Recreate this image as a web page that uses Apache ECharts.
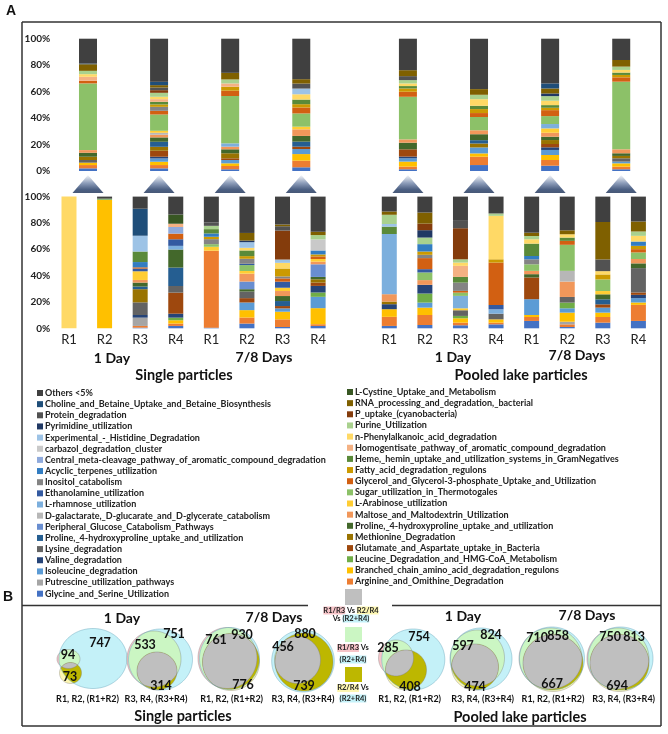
<!DOCTYPE html>
<html><head><meta charset="utf-8">
<script src="https://cdn.jsdelivr.net/npm/echarts@6/dist/echarts.min.js"></script>
<style>html,body{margin:0;padding:0;background:#fff}#c{width:668px;height:734px}</style>
</head><body><div id="c"></div>
<script>
// ---------- DATA ----------
const codes = ['Gly','Arg','Put','Bra','Iso','Leu','Val','Glu','Lys','Met','ProB','ProG','Per','Mal','Dga','Ara','Rha','Sug','Eth','Glp','Ino','Fat','Acy','Hem','Cen','Hom','Car','Phe','His','Pur','Pyr','Pup','Prt','Rna','Cho','Cys','Oth'];
const names = ['Glycine_and_Serine_Utilization','Arginine_and_Omithine_Degradation','Putrescine_utilization_pathways','Branched_chain_amino_acid_degradation_regulons','Isoleucine_degradation','Leucine_Degradation_and_HMG-CoA_Metabolism','Valine_degradation','Glutamate_and_Aspartate_uptake_in_Bacteria','Lysine_degradation','Methionine_Degradation','Proline,_4-hydroxyproline_uptake_and_utilization','Proline,_4-hydroxyproline_uptake_and_utilization\u200B','Peripheral_Glucose_Catabolism_Pathways','Maltose_and_Maltodextrin_Utilization','D-galactarate,_D-glucarate_and_D-glycerate_catabolism','L-Arabinose_utilization','L-rhamnose_utilization','Sugar_utilization_in_Thermotogales','Ethanolamine_utilization','Glycerol_and_Glycerol-3-phosphate_Uptake_and_Utilization','Inositol_catabolism','Fatty_acid_degradation_regulons','Acyclic_terpenes_utilization','Heme,_hemin_uptake_and_utilization_systems_in_GramNegatives','Central_meta-cleavage_pathway_of_aromatic_compound_degradation','Homogentisate_pathway_of_aromatic_compound_degradation','carbazol_degradation_cluster','n-Phenylalkanoic_acid_degradation','Experimental_-_Histidine_Degradation','Purine_Utilization','Pyrimidine_utilization','P_uptake_(cyanobacteria)','Protein_degradation','RNA_processing_and_degradation,_bacterial','Choline_and_Betaine_Uptake_and_Betaine_Biosynthesis','L-Cystine_Uptake_and_Metabolism','Others <5%'];

// Top row (pooled replicate pairs), % per subsystem
const topSingle1Day_R1R2 = [['Gly',2],['Arg',2.5],['Bra',1.8],['Lys',2],['Met',2.5],['ProG',3],['Mal',2],['Sug',50.4],['Glp',2],['Hom',3],['Phe',2],['Pur',2.5],['Rna',5],['Cho',0.5],['Oth',18.8]];
const topSingle1Day_R3R4 = [['Gly',2],['Arg',2.5],['Bra',2.5],['Iso',2.5],['Val',1.3],['Glu',4.5],['Met',3],['ProB',3.8],['ProG',3.3],['Mal',2],['Dga',1.5],['Ara',1.5],['Sug',12.3],['Glp',2.8],['Ino',3],['Fat',1.8],['Hem',2],['Hom',2],['Phe',1.8],['Pur',3],['Pup',2],['Prt',2],['Rna',1.8],['Cho',2.5],['Oth',32.6]];
const topSingle78_R1R2 = [['Gly',1.3],['Arg',2.5],['Bra',2],['Iso',2.5],['Glu',1.3],['Met',3.8],['ProG',3],['Mal',2],['Rha',2.5],['Sug',35.8],['Glp',4],['Fat',3],['Hom',2.5],['Pur',3],['Rna',5],['Oth',25.8]];
const topSingle78_R3R4 = [['Gly',2.8],['Arg',5],['Bra',5],['Iso',3.8],['Glu',1.8],['ProB',3.8],['ProG',4.3],['Mal',5],['Ara',2],['Sug',10],['Glp',4.5],['Fat',2.5],['Hem',3.5],['Phe',4],['His',4.3],['Prt',3.8],['Rna',3.3],['Oth',30.6]];
const topPooled1Day_R1R2 = [['Gly',1.3],['Arg',2],['Bra',3.8],['Iso',2.5],['Val',1.3],['Glu',5.5],['ProG',5],['Mal',2.5],['Sug',32.2],['Glp',3.8],['Fat',2.5],['Hem',1.8],['Phe',2],['Pur',2.5],['Prt',3],['Rna',4.5],['Oth',23.8]];
const topPooled1Day_R3R4 = [['Gly',4.5],['Arg',6.3],['Bra',2.5],['Iso',4.5],['Met',3],['ProB',2.5],['ProG',4.5],['Mal',3],['Sug',10],['Glp',3],['Fat',3],['Hem',2.5],['Phe',5],['Pur',3.3],['Rna',4.3],['Oth',38.1]];
const topPooled78_R1R2 = [['Gly',4],['Arg',4.3],['Bra',3.8],['Iso',3.8],['Val',2],['Glu',2.5],['Met',3],['ProG',2.5],['Mal',3],['Ara',3.3],['Rha',3.3],['Sug',6],['Glp',4.5],['Fat',1.8],['Hem',2],['Phe',3.3],['Pur',3.5],['Pyr',2],['Rna',3.8],['Cho',3.8],['Oth',33.8]];
const topPooled78_R3R4 = [['Gly',1.3],['Arg',2],['Bra',2.5],['Iso',1.3],['Lys',2.5],['Met',1.8],['ProG',2],['Mal',3],['Sug',51.1],['Glp',3.3],['Fat',1.8],['Hem',1.8],['Phe',2],['Pur',2.5],['Rna',5],['Oth',16.1]];

// Bottom row (individual replicates), % per subsystem
const single1Day_R1 = [['Phe',100]];
const single1Day_R2 = [['Leu',0.5],['Bra',97.5],['Hem',0.5],['Oth',1.5]];
const single1Day_R3 = [['Gly',0.5],['Arg',1.3],['Put',6.3],['Val',2],['Lys',9.6],['Met',10],['ProB',2],['ProG',3],['Mal',2],['Ara',6.6],['Eth',2],['Glp',1],['Acy',4],['Hem',8],['His',12],['Cho',20.5],['Oth',9.2]];
const single1Day_R4 = [['Gly',1.8],['Arg',1.8],['Bra',2.5],['Leu',2],['Val',3],['Glu',16],['Lys',5],['ProB',14],['ProG',13.7],['Rha',2.8],['Eth',5],['Glp',4.3],['Cen',5],['Hom',2.5],['Cys',7],['Oth',13.6]];
const single78_R1 = [['Gly',0.5],['Arg',58.4],['Ara',3],['Sug',2],['Ino',3.8],['Acy',2.5],['Hem',3.3],['Fat',1.8],['Pur',2.5],['Prt',2.5],['Oth',19.7]];
const single78_R2 = [['Gly',3.6],['Arg',4.6],['Bra',5.6],['Iso',5.8],['Glu',3.3],['Lys',5],['ProG',1.8],['Per',5.8],['Mal',6],['Ara',2],['Sug',4.5],['Eth',1],['Ino',3.8],['Fat',2],['Hem',4.3],['Phe',2],['His',4.3],['Pyr',1.2],['Rna',5.8],['Oth',27.6]];
const single78_R3 = [['Gly',1],['Arg',5.8],['Bra',5.8],['Iso',2.5],['Glu',1.8],['ProB',3.8],['ProG',3.8],['Mal',3.8],['Ara',2.5],['Eth',4.6],['Glp',2.5],['Ino',1.5],['Fat',6],['Phe',4.3],['His',2.5],['Pup',22],['Prt',3.3],['Rna',1.3],['Oth',21.2]];
const single78_R4 = [['Gly',1.8],['Arg',1.3],['Bra',12.2],['Iso',8.6],['Leu',3.3],['Val',5],['Glu',2.5],['Met',2.5],['ProG',1.8],['Per',9.6],['Mal',2],['Ara',2],['Glp',2],['Fat',1.5],['Acy',3],['Car',8.4],['Pur',3.3],['Rna',2.5],['Oth',26.7]];
const pooled1Day_R1 = [['Gly',1.8],['Arg',6.9],['Bra',5.8],['Val',3.8],['Met',2],['Mal',5.6],['Rha',45.7],['Hem',5.6],['His',2],['Pur',7],['Rna',2.5],['Oth',11.3]];
const pooled1Day_R2 = [['Gly',2.5],['Arg',7.6],['Bra',5.6],['Iso',3.8],['Leu',6.9],['Val',6.6],['Mal',3.6],['Sug',5.8],['Eth',2.5],['Glp',8.4],['Ino',2.5],['Fat',2.5],['Acy',5.6],['Pur',5],['Pyr',5.6],['Pup',5],['Rna',8.4],['Oth',12.1]];
const pooled1Day_R3 = [['Gly',2.3],['Arg',2],['Bra',3.3],['Leu',1.8],['Lys',4.3],['Ara',1.5],['Rha',9.4],['Sug',2.5],['Glp',1.3],['Ino',6.3],['Hem',4.3],['Hom',8.4],['Phe',2.5],['Pur',2.5],['Pup',23.6],['Prt',5.6],['Oth',18.4]];
const pooled1Day_R4 = [['Gly',3],['Arg',1.3],['Bra',2.5],['Lys',4.3],['Rha',3.3],['Eth',3.3],['Glp',32.2],['Fat',2.5],['Phe',33],['Pur',1.8],['Oth',12.8]];
const pooled78_R1 = [['Gly',5.6],['Arg',3],['Bra',1.5],['Iso',12],['Glu',16.5],['ProG',2.5],['Mal',2.5],['Sug',5],['Ino',3.8],['Acy',2.5],['Hem',9.4],['Phe',3.3],['Pur',2.5],['Rna',2.5],['Oth',27.4]];
const pooled78_R2 = [['Gly',1],['Arg',2],['Put',2],['Bra',6.9],['Iso',3.3],['Leu',4.3],['Lys',4.3],['Mal',11.7],['Dga',8.1],['Sug',19.8],['Glp',3],['Hem',2.5],['Phe',2.5],['Rna',3],['Oth',25.6]];
const pooled78_R3 = [['Gly',4.3],['Arg',4.3],['Bra',3.3],['Iso',3.8],['Glu',2.5],['ProB',3.8],['ProG',3.8],['Ara',2.5],['Sug',8.8],['Fat',3.8],['Phe',2.5],['Prt',8.9],['Rna',28.4],['Oth',19.3]];
const pooled78_R4 = [['Gly',5.6],['Arg',12.2],['Bra',1.8],['Iso',3.3],['Val',2.5],['Glu',1.8],['Lys',18.5],['ProG',3.6],['Mal',3.3],['Sug',5],['Glp',2.5],['Fat',2.5],['Acy',3.3],['Phe',4.3],['Pur',3.3],['Rna',7.6],['Oth',18.9]];

const bottomLabels = ['R1','R2','R3','R4','R1','R2','R3','R4','','R1','R2','R3','R4','R1','R2','R3','R4'];

// Venn counts (panel B)
const vennCounts = [
  ['94','747','73'], ['533','751','314'], ['761','930','776'], ['456','880','739'],
  ['285','754','408'], ['597','824','474'], ['710','858','667'], ['750','813','694']
];
const vennLabels = ['R1, R2, (R1+R2)','R3, R4, (R3+R4)','R1, R2, (R1+R2)','R3, R4, (R3+R4)','R1, R2, (R1+R2)','R3, R4, (R3+R4)','R1, R2, (R1+R2)','R3, R4, (R3+R4)'];

// ---------- STYLE / LAYOUT ----------
const colors = ['#4472C4','#ED7D31','#A5A5A5','#FFC000','#5B9BD5','#70AD47','#264478','#9E480E','#636363','#997300','#255E91','#43682B','#698ED0','#F1975A','#B7B7B7','#FFCD33','#7CAFDD','#8CC168','#335AA1','#D26012','#848484','#CC9A00','#327DC2','#5A8A39','#8FAADC','#F4B183','#C9C9C9','#FFD966','#9DC3E6','#A9D18E','#203864','#843C0C','#525252','#7F6000','#1F4E79','#385723','#404040'];
const topBars = [topSingle1Day_R1R2, topSingle1Day_R3R4, topSingle78_R1R2, topSingle78_R3R4, topPooled1Day_R1R2, topPooled1Day_R3R4, topPooled78_R1R2, topPooled78_R3R4];
const topSlots = [0,2,4,6,9,11,13,15];
const bottomBars = [single1Day_R1, single1Day_R2, single1Day_R3, single1Day_R4, single78_R1, single78_R2, single78_R3, single78_R4, null, pooled1Day_R1, pooled1Day_R2, pooled1Day_R3, pooled1Day_R4, pooled78_R1, pooled78_R2, pooled78_R3, pooled78_R4];

// Venn geometry (layout): [cx, cy, rx, ry] for C=(union), A=R1/R3, B=R2/R4
const vennGeom = [
  {C:[93,658.5,34,30], A:[68.5,659,11.5,9.5], B:[70.5,673,11,10.5]},
  {C:[160.5,659.5,32,30.5], A:[154,659,27,28], B:[157,671,20,19]},
  {C:[229.5,658.5,30,31], A:[227.5,658,29.5,30.5], B:[231,662,28.5,28.5]},
  {C:[303,661,31.3,31], A:[297.5,660,23,23.5], B:[304,662,29,29]},
  {C:[413.3,659.5,31.5,30.5], A:[396,658,17.5,18], B:[406,670,20.5,20]},
  {C:[481,659,31,31], A:[477.5,658,27,28], B:[475,667,23.5,23]},
  {C:[552,658.5,32.5,31.5], A:[550.5,658.5,31.5,30.5], B:[553,663,30,28.5]},
  {C:[620.5,658.5,32.5,31.5], A:[618,658.5,31,30.5], B:[619.5,663,29.5,28.5]}
];
const vennNumPos = [
  [[68,655],[100,643],[70,677]], [[145,645],[174,634],[161,686]], [[216,640],[242,635],[243,685]], [[283,647],[305,634],[304,686]],
  [[388,648],[419,637],[410,687]], [[463,646],[491,635],[475,687]], [[537,638],[558,636],[552,684]], [[610,637],[634,637],[617,686]]
];
const vennLabelX = [87.5,156,231.7,303,409.7,482.7,553,623.7];

const FONT = 'Lato, "Open Sans", sans-serif';

// ---------- BUILD ----------
function val(bar, code){ if(!bar) return '-'; const f = bar.find(p=>p[0]===code); return f ? f[1] : 0; }
const series = [];
codes.forEach((code, i) => {
  const topData = new Array(16).fill('-');
  topSlots.forEach((s,k) => { topData[s] = val(topBars[k], code); });
  const botData = bottomBars.map(b => val(b, code));
  series.push({type:'bar', name:names[i], stack:'top', xAxisIndex:0, yAxisIndex:0, barWidth:18, data:topData, itemStyle:{color:colors[i]}, emphasis:{disabled:true}});
  series.push({type:'bar', name:names[i], stack:'bot', xAxisIndex:1, yAxisIndex:1, barWidth:15, data:botData, itemStyle:{color:colors[i]}, emphasis:{disabled:true}});
});
// triangles
const triData = new Array(16).fill('-'); topSlots.forEach(s => triData[s] = 0.5);
series.push({type:'scatter', xAxisIndex:2, yAxisIndex:2, symbol:'triangle', symbolSize:[31,18], data:triData, silent:true,
  itemStyle:{color:new echarts.graphic.LinearGradient(0,0,0,1,[{offset:0,color:'#f6f8fb'},{offset:0.45,color:'#7084a8'},{offset:0.8,color:'#1F3864'},{offset:1,color:'#1a2f55'}])}});

// Venn custom series
function diskInter(cs){
  const pts=[]; const N=240;
  cs.forEach((c,ci)=>{
    for(let k=0;k<N;k++){
      const a=k/N*2*Math.PI; const p=[c[0]+c[2]*Math.cos(a), c[1]+c[3]*Math.sin(a)];
      if(cs.every((o,oi)=> oi===ci || Math.pow((p[0]-o[0])/o[2],2)+Math.pow((p[1]-o[1])/o[3],2) <= 1.0005)) pts.push(p);
    }
  });
  if(pts.length<3) return null;
  let mx=0,my=0; pts.forEach(p=>{mx+=p[0];my+=p[1];}); mx/=pts.length; my/=pts.length;
  pts.sort((p,q)=>Math.atan2(p[1]-my,p[0]-mx)-Math.atan2(q[1]-my,q[0]-mx));
  return pts;
}
function toPx(api, c){ const p = api.coord([c[0],c[1]]); const s = api.size([c[2],c[3]]); return [p[0],p[1],Math.abs(s[0]),Math.abs(s[1])]; }
const vennData = vennGeom.map((g,i)=>[g.C[0], g.C[1], i]);
series.push({type:'custom', xAxisIndex:3, yAxisIndex:3, coordinateSystem:'cartesian2d', silent:true, clip:false, z:1, data:vennData,
  renderItem:function(params, api){
    const g = vennGeom[api.value(2)];
    const C=toPx(api,g.C), A=toPx(api,g.A), B=toPx(api,g.B);
    const poly=(cs,fill,stroke)=>{ const pts=diskInter(cs); return pts? {type:'polygon', shape:{points:pts}, style:{fill:fill||'none', stroke:stroke||null, lineWidth:0.7}} : {type:'group',children:[]}; };
    return {type:'group', children:[
      poly([A],'#F6C4C8'), poly([B],'#FDF6B2'), poly([C],'#C4F1F8'),
      poly([A,C],'#CBF6C3'), poly([B,C],'#BDB700'), poly([A,B,C],'#BFBFBF'),
      poly([A],null,'rgba(120,120,120,0.55)'), poly([B],null,'rgba(120,120,120,0.55)'), poly([C],null,'rgba(110,170,190,0.7)')
    ]};
  }});

// legends
const leftIdx=[], rightIdx=[];
for(let i=36;i>=0;i-=2) leftIdx.push(i);
for(let i=35;i>=1;i-=2) rightIdx.push(i);
const legendCommon = {orient:'vertical', icon:'rect', itemWidth:6, itemHeight:6, itemGap:2.15, selectedMode:false, padding:0,
  textStyle:{fontFamily:FONT, fontWeight:'bold', fontSize:9, color:'#222', padding:[0,0,0,-3]}};
const legends = [
  Object.assign({}, legendCommon, {left:37, top:388.5, data:leftIdx.map(i=>names[i])}),
  Object.assign({}, legendCommon, {left:347, top:387.5, data:rightIdx.map(i=>names[i])})
];

// graphics
const T = (text,x,y,font) => ({type:'text', silent:true, z:100, style:{text, x, y, font, fill:'#111', align:'center', verticalAlign:'middle'}});
const L = (x1,y1,x2,y2) => ({type:'line', silent:true, z:100, shape:{x1,y1,x2,y2}, style:{stroke:'#333', lineWidth:1.5}});
const graphics = [
  L(22,22,661,22), L(22,22,22,726), L(661,22,661,726), L(22,726,661,726), L(22,605.5,308,605.5), L(392,605.5,661,605.5),
  T('A',11,11,'bold 14px "Liberation Sans", Arial'), T('B',8,597,'bold 14px "Liberation Sans", Arial'),
  T('1 Day',112,358,'bold 14px '+FONT), T('7/8 Days',264,357,'bold 14px '+FONT),
  T('1 Day',453,357,'bold 14px '+FONT), T('7/8 Days',577,355,'bold 14px '+FONT),
  T('Single particles',184,375,'bold 14.5px '+FONT), T('Pooled lake particles',521,375,'bold 14.5px '+FONT),
  T('1 Day',122,618,'bold 14px '+FONT), T('7/8 Days',274,617,'bold 14px '+FONT),
  T('1 Day',463,616,'bold 14px '+FONT), T('7/8 Days',587,615,'bold 14px '+FONT),
  T('Single particles',183,716,'bold 14.5px '+FONT), T('Pooled lake particles',520,717,'bold 14.5px '+FONT),
  {type:'rect', silent:true, z:100, shape:{x:345,y:589,width:17,height:16}, style:{fill:'#BFBFBF'}},
  {type:'rect', silent:true, z:100, shape:{x:345,y:627,width:17,height:15}, style:{fill:'#CBF6C3'}},
  {type:'rect', silent:true, z:100, shape:{x:345,y:667,width:17,height:15}, style:{fill:'#BDB700'}}
];
const rich = {p:{backgroundColor:'#F6C4C8', font:'bold 7.5px '+FONT, fill:'#222'}, y:{backgroundColor:'#FDF6B2', font:'bold 7.5px '+FONT}, c:{backgroundColor:'#C4F1F8', font:'bold 7.5px '+FONT}};
const RT = (text,x,y) => ({type:'text', silent:true, z:100, style:{text, x, y, font:'bold 7.5px '+FONT, fill:'#222', align:'center', verticalAlign:'middle', rich}});
graphics.push(RT('{p|R1/R3} Vs {y|R2/R4}',351,610.5), RT('Vs {c|(R2+R4)}',351,618.5), RT('{p|R1/R3} Vs',353,648), RT('{c|(R2+R4)}',353,659.5), RT('{y|R2/R4} Vs',353,688), RT('{c|(R2+R4)}',353,698.5));
vennCounts.forEach((cnt,i)=>{
  cnt.forEach((t,j)=> graphics.push(T(t, vennNumPos[i][j][0], vennNumPos[i][j][1], 'bold 12.5px '+FONT)));
  graphics.push(T(vennLabels[i], vennLabelX[i], 699, 'bold 9px '+FONT));
});

const yAxisCommon = {type:'value', min:0, max:100, interval:20, axisLine:{show:false}, axisTick:{show:false}, splitLine:{show:false},
  axisLabel:{formatter:'{value}%', fontFamily:FONT, fontWeight:'bold', fontSize:10, color:'#222'}};

const chart = echarts.init(document.getElementById('c'), null, {renderer:'canvas'});
chart.setOption({
  animation:false,
  grid:[
    {left:70.2, top:38.7, width:568.8, height:132.3},
    {left:51.2, top:196.6, width:605, height:131.7},
    {left:70.2, top:175, width:568.8, height:18},
    {left:0, top:0, width:668, height:734}
  ],
  xAxis:[
    {gridIndex:0, type:'category', data:new Array(16).fill(''), show:false},
    {gridIndex:1, type:'category', data:bottomLabels, axisLine:{show:false}, axisTick:{show:false}, axisLabel:{margin:5, fontFamily:FONT, fontSize:13, color:'#222', interval:0}},
    {gridIndex:2, type:'category', data:new Array(16).fill(''), show:false},
    {gridIndex:3, type:'value', min:0, max:668, show:false}
  ],
  yAxis:[
    Object.assign({gridIndex:0}, yAxisCommon, {axisLabel:Object.assign({}, yAxisCommon.axisLabel, {margin:20})}),
    Object.assign({gridIndex:1}, yAxisCommon, {axisLabel:Object.assign({}, yAxisCommon.axisLabel, {margin:1})}),
    {gridIndex:2, type:'value', min:0, max:1, show:false},
    {gridIndex:3, type:'value', min:0, max:734, inverse:true, show:false}
  ],
  legend: legends,
  series: series,
  graphic: graphics
});
</script></body></html>
